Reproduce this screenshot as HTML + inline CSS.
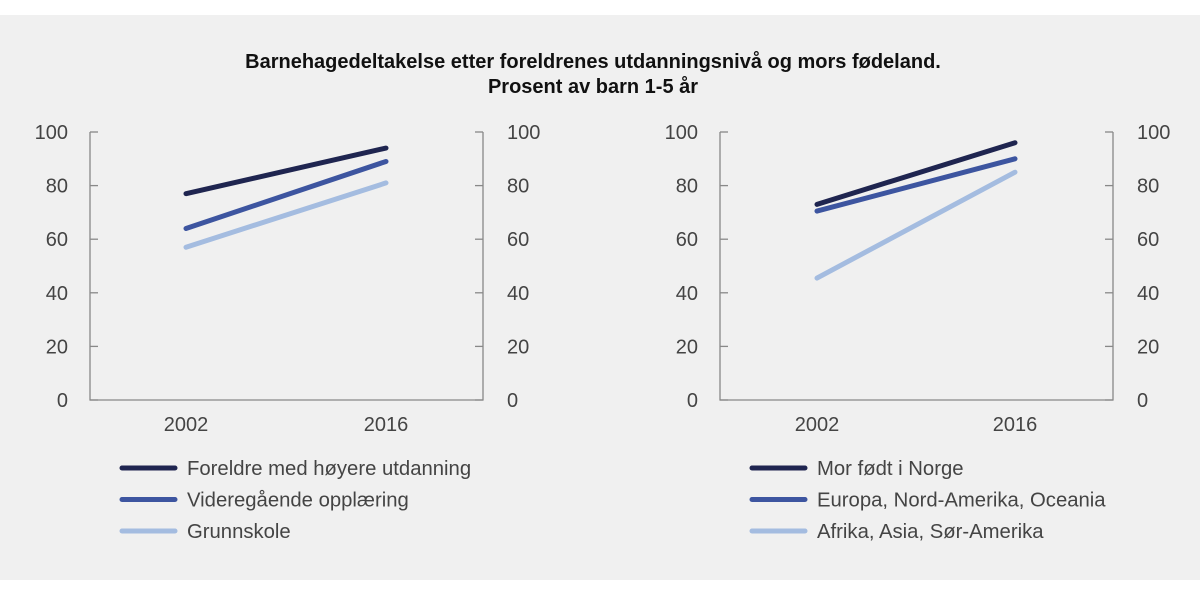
<!DOCTYPE html>
<html><head><meta charset="utf-8"><style>
body{margin:0;background:#fff;font-family:"Liberation Sans",sans-serif}
#panel{position:absolute;left:0;top:15px;width:1200px;height:565px;background:#f0f0f0}
svg{position:absolute;left:0;top:0}
</style></head><body>
<div id="panel"></div>
<svg id="c" width="1200" height="595"></svg>
<script>
const years=["2002","2016"];
const ticks=[0,20,40,60,80,100];
const leftNames=["Foreldre med høyere utdanning","Videregående opplæring","Grunnskole"];
const leftHigh=[77,94];
const leftMid=[64,89];
const leftLow=[57,81];
const rightNames=["Mor født i Norge","Europa, Nord-Amerika, Oceania","Afrika, Asia, Sør-Amerika"];
const rightHigh=[73,96];
const rightMid=[70.5,90];
const rightLow=[45.5,85];
const colors=["#1f2550","#3d55a0","#a4bce0"];
const NS="http://www.w3.org/2000/svg";
const svg=document.getElementById('c');
function mk(t,a,txt){const e=document.createElementNS(NS,t);for(const k in a)e.setAttribute(k,a[k]);if(txt!==undefined)e.textContent=txt;svg.appendChild(e);return e;}
let t=mk('text',{x:593,y:68,'text-anchor':'middle','font-size':20,'font-weight':'bold',fill:'#111'},'Barnehagedeltakelse etter foreldrenes utdanningsnivå og mors fødeland.');

t=mk('text',{x:593,y:93,'text-anchor':'middle','font-size':20,'font-weight':'bold',fill:'#111'},'Prosent av barn 1-5 år');

function panel(x0,x1,xa,xb,names,series,pfx){
  const y0=400,y1=132;
  const ys=v=>y0-(v/100)*(y0-y1);
  const xs=i=>i===0?xa:xb;
  let p=mk('path',{d:`M${x0},${y1}V${y0}H${x1}V${y1}`,fill:'none',stroke:'#888','stroke-width':1.3});
  
  ticks.forEach(v=>{
    const y=ys(v);
    let l=mk('line',{x1:x0,x2:x0+8,y1:y,y2:y,stroke:'#888','stroke-width':1.3});
    
    l=mk('line',{x1:x1-8,x2:x1,y1:y,y2:y,stroke:'#888','stroke-width':1.3});
    
    let a=mk('text',{x:x0-22,y:y+7,'text-anchor':'end','font-size':20,fill:'#444'},v);
    
    a=mk('text',{x:x1+24,y:y+7,'text-anchor':'start','font-size':20,fill:'#444'},v);
    
  });
  years.forEach((yr,i)=>{
    const a=mk('text',{x:xs(i),y:431,'text-anchor':'middle','font-size':20,fill:'#444'},yr);
    
  });
  series.forEach((s,k)=>{
    const l=mk('line',{x1:xs(0),y1:ys(s[0]),x2:xs(1),y2:ys(s[1]),stroke:colors[k],'stroke-width':5,'stroke-linecap':'round'});
    
    const ly=468+k*31.5;
    const m=mk('line',{x1:x0+32,x2:x0+85,y1:ly,y2:ly,stroke:colors[k],'stroke-width':5,'stroke-linecap':'round'});
    
    const a=mk('text',{x:x0+97,y:ly+7,'font-size':20.3,fill:'#444'},names[k]);
    
  });
}
panel(90,483,186,386,leftNames,[leftHigh,leftMid,leftLow],'left');
panel(720,1113,817,1015,rightNames,[rightHigh,rightMid,rightLow],'right');
</script>
</body></html>
